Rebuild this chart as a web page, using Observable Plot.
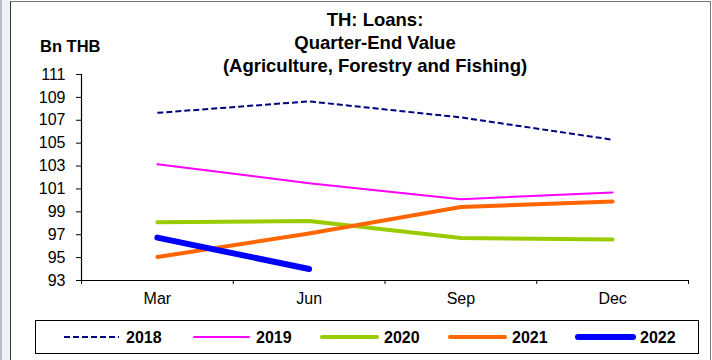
<!DOCTYPE html>
<html>
<head>
<meta charset="utf-8">
<script src="https://cdn.jsdelivr.net/npm/d3@7"></script>
<script src="https://cdn.jsdelivr.net/npm/@observablehq/plot@0.6"></script>
<style>
  html, body { margin: 0; padding: 0; background: #fff; }
  body { width: 712px; height: 360px; position: relative; overflow: hidden; font-family: "Liberation Sans", Arial, sans-serif; }
  #chart { position: absolute; left: 0; top: 0; }
  .strip { position: absolute; left: 0; top: 0; width: 10px; height: 360px; background: #eef1f8; border-left: 2px solid #b8bcc4; box-sizing: border-box; }
  .frame { position: absolute; left: 10px; top: 1px; width: 701px; height: 400px; border-left: 1.5px solid #333; border-top: 1.5px solid #777; border-right: 1.5px solid #777; box-sizing: border-box; }
  .title { position: absolute; left: 125px; width: 500px; text-align: center; font-weight: bold; font-size: 18.5px; line-height: 23px; top: 8px; color: #000; }
  .unit { position: absolute; left: 40px; top: 37px; font-weight: bold; font-size: 16.5px; color: #000; }
  .legend { position: absolute; left: 35px; top: 320px; width: 664px; height: 34px; border: 1px solid #000; box-sizing: border-box; }
  .legend svg { position: absolute; left: 0; top: 0; }
</style>
</head>
<body>
<div class="strip"></div>
<div class="frame"></div>
<div id="chart"></div>
<div class="title">TH: Loans:<br>Quarter-End Value<br>(Agriculture, Forestry and Fishing)</div>
<div class="unit">Bn THB</div>
<div class="legend" id="legend"></div>
<script>
const months = ["Mar", "Jun", "Sep", "Dec"];
const yTicks = [93, 95, 97, 99, 101, 103, 105, 107, 109, 111];
const seriesNames = ["2018", "2019", "2020", "2021", "2022"];
const s2018 = [107.65, 108.65, 107.25, 105.3];
const s2019 = [103.15, 101.5, 100.1, 100.7];
const s2020 = [98.1, 98.2, 96.72, 96.58];
const s2021 = [95.05, 97.1, 99.43, 99.9];
const s2022 = [96.75, 94.0];
const colors = ["#000080", "#ff00ff", "#99cc00", "#ff6600", "#0000ff"];
const widths = [2, 2, 4, 4, 6];
const dashes = ["6,3", null, null, null, null];

const allSeries = [s2018, s2019, s2020, s2021, s2022];
const bounds = [-0.5, 0.5, 1.5, 2.5, 3.5];
const idx = months.map((m, i) => i);

const lineMarks = allSeries.map((vals, s) =>
  Plot.line(vals.map((v, i) => ({i, v})), {
    x: "i", y: "v",
    stroke: colors[s], strokeWidth: widths[s],
    strokeDasharray: dashes[s] || undefined,
    strokeLinecap: s === 0 ? "butt" : "round",
    strokeLinejoin: "round"
  })
);

const chart = Plot.plot({
  width: 712,
  height: 360,
  marginLeft: 81,
  marginRight: 24,
  marginTop: 74,
  marginBottom: 80,
  style: { background: "transparent", fontFamily: "'Liberation Sans', Arial, sans-serif", color: "#000" },
  x: { type: "linear", domain: [-0.5, 3.5] },
  y: { domain: [93, 111] },
  marks: [
    Plot.axisY({ ticks: yTicks, tickSize: 5, tickPadding: 11, fontSize: 16, label: null, tickFormat: d => String(d) }),
    Plot.axisX({ ticks: bounds, tickSize: 4, tickFormat: () => "", label: null }),
    Plot.axisX({ ticks: idx, tickSize: 0, tickPadding: 12, fontSize: 16, label: null, tickFormat: i => months[i] }),
    Plot.ruleX([-0.5], { stroke: "#000", strokeWidth: 1.2 }),
    Plot.ruleY([93], { stroke: "#000", strokeWidth: 1.2 }),
    ...lineMarks
  ]
});
document.getElementById("chart").appendChild(chart);

// Legend
const legendX = [28, 158, 286, 414, 542];
const legend = d3.select("#legend").append("svg").attr("width", 664).attr("height", 34);
seriesNames.forEach((name, s) => {
  const g = legend.append("g").attr("transform", `translate(${legendX[s]},16)`);
  g.append("line").attr("x1", 0).attr("x2", 55).attr("y1", 0).attr("y2", 0)
    .attr("stroke", colors[s]).attr("stroke-width", widths[s])
    .attr("stroke-dasharray", dashes[s])
    .attr("stroke-linecap", s === 0 ? "butt" : "round");
  g.append("text").attr("x", 62).attr("y", 6).text(name)
    .attr("font-weight", "bold").attr("font-size", 16)
    .attr("font-family", "'Liberation Sans', Arial, sans-serif");
});
</script>
</body>
</html>
